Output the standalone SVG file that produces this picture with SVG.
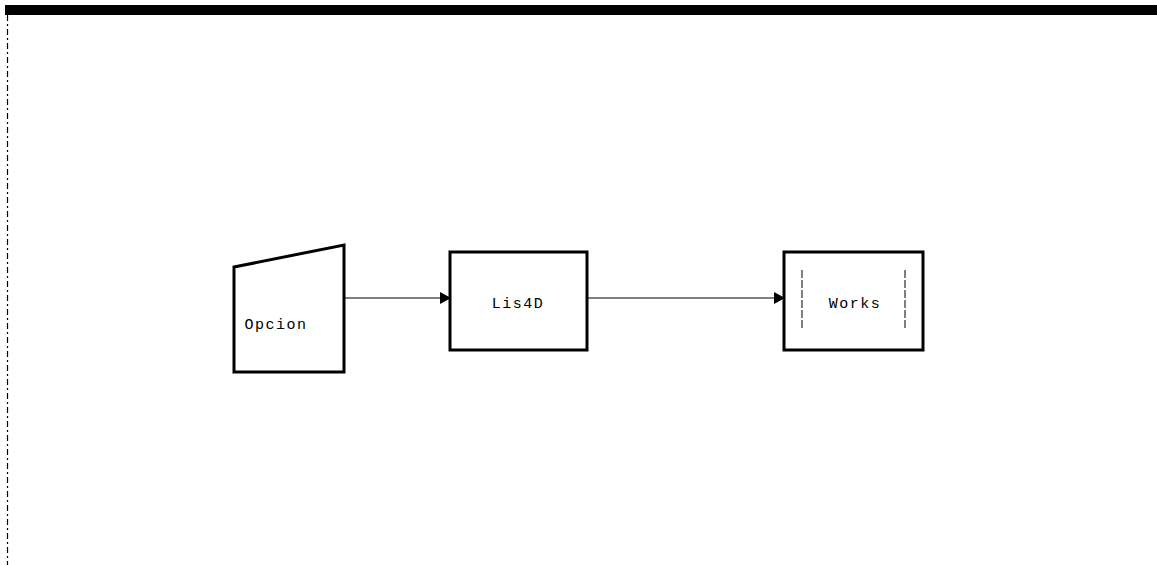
<svg xmlns="http://www.w3.org/2000/svg" width="1157" height="565" viewBox="0 0 1157 565">
<style>
.node{fill:#fff;stroke:#000;stroke-width:3}
.lbl{font-family:"Liberation Mono",monospace;font-size:15px;fill:#000;text-anchor:middle;letter-spacing:1.5px}
.conn{stroke:#000;stroke-width:1.2;fill:none}
</style>
<defs>
<marker id="ah" markerWidth="11" markerHeight="12" refX="10" refY="6" orient="auto" markerUnits="userSpaceOnUse">
<path d="M0,0 L11,6 L0,12 Z" fill="#000"/>
</marker>
</defs>
<rect width="1157" height="565" fill="#fff"/>
<g id="frame">
<rect x="5" y="5" width="1152" height="10" fill="#000"/>
<line x1="7.5" y1="15" x2="7.5" y2="565" stroke="#000" stroke-width="1.2" stroke-dasharray="6,3,2,3"/>
</g>
<g id="connectors">
<line class="conn" x1="344" y1="298" x2="450" y2="298" marker-end="url(#ah)"/>
<line class="conn" x1="587" y1="298" x2="784" y2="298" marker-end="url(#ah)"/>
</g>
<g id="opcion">
<path class="node" d="M234,267 L344,245 L344,372 L234,372 Z"/>
<text class="lbl" x="276" y="329">Opcion</text>
</g>
<g id="lis4d">
<rect class="node" x="450" y="252" width="137" height="98"/>
<text class="lbl" x="518" y="308">Lis4D</text>
</g>
<g id="works">
<rect class="node" x="784" y="252" width="139" height="98"/>
<line x1="802" y1="270" x2="802" y2="330" stroke="#000" stroke-width="1" stroke-dasharray="8,2"/>
<line x1="905" y1="270" x2="905" y2="330" stroke="#000" stroke-width="1" stroke-dasharray="8,2"/>
<text class="lbl" x="855" y="308">Works</text>
</g>
</svg>
